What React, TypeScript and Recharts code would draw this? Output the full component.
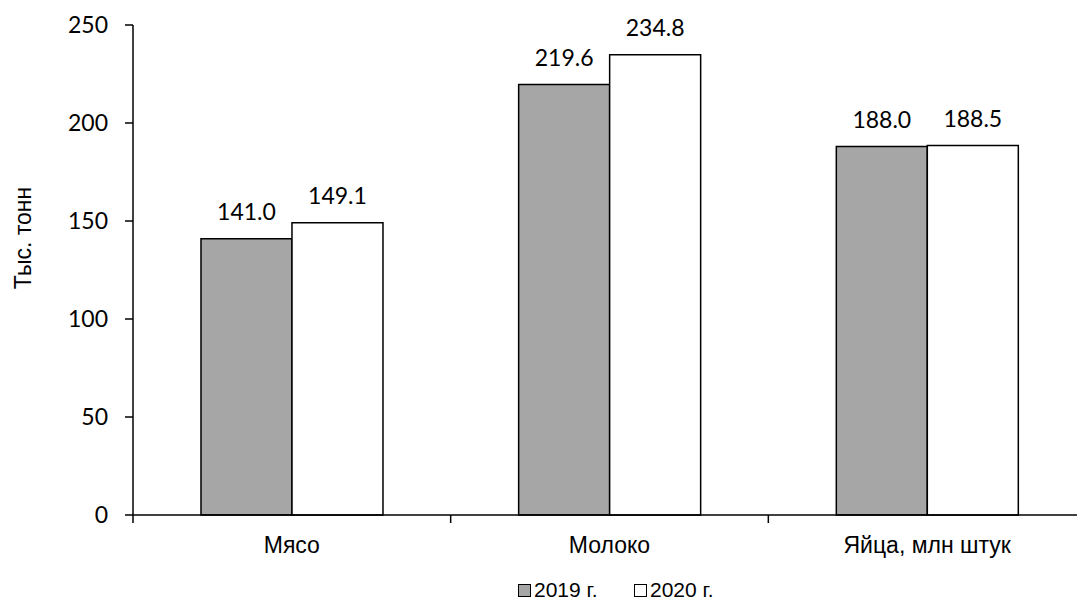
import { BarChart, Bar, XAxis, YAxis, Legend, LabelList } from 'recharts';

const categories = ['Мясо', 'Молоко', 'Яйца, млн штук'];
const values2019 = [141.0, 219.6, 188.0];
const values2020 = [149.1, 234.8, 188.5];
const yTicks = [0, 50, 100, 150, 200, 250];
const seriesNames = ['2019 г.', '2020 г.'];

const data = categories.map((name, i) => ({
  name,
  y2019: values2019[i],
  y2020: values2020[i],
}));

const numFont = 'Lato, "Open Sans", sans-serif';
const textFont = '"Liberation Sans", Arial, sans-serif';

const CategoryTick = (props: any) => {
  const { x, y, payload, index, visibleTicksCount, width } = props;
  const half = payload.offset ?? width / (categories.length * 2);
  const last = index === (visibleTicksCount ?? categories.length) - 1;
  return (
    <g>
      <line x1={x - half} x2={x - half} y1={y} y2={y + 8} stroke="#000" strokeWidth={1.5} />
      {last && <line x1={x + half} x2={x + half} y1={y} y2={y + 8} stroke="#000" strokeWidth={1.5} />}
      <text x={x} y={y + 38} textAnchor="middle" fontFamily={textFont} fontSize={23} fill="#000">
        {payload.value}
      </text>
    </g>
  );
};

const LegendContent = () => (
  <div
    style={{
      height: 20,
      lineHeight: '20px',
      display: 'flex',
      alignItems: 'center',
      paddingLeft: 518,
      fontFamily: textFont,
      fontSize: 21,
      color: '#000',
    }}
  >
    <span style={{ width: 11, height: 11, background: '#a6a6a6', border: '1px solid #000', display: 'inline-block' }} />
    <span style={{ marginLeft: 3, width: 100 }}>{seriesNames[0]}</span>
    <span style={{ width: 11, height: 11, background: '#fff', border: '1px solid #000', display: 'inline-block' }} />
    <span style={{ marginLeft: 3 }}>{seriesNames[1]}</span>
  </div>
);

const YLabel = (props: any) => {
  const vb = props.viewBox;
  const cx = vb.x + 23;
  const cy = vb.y + vb.height / 2 - 32;
  return (
    <text
      x={cx}
      y={cy}
      transform={`rotate(-90 ${cx} ${cy})`}
      textAnchor="middle"
      dominantBaseline="central"
      fontFamily={textFont}
      fontSize={23}
      fill="#000"
    >
      Тыс. тонн
    </text>
  );
};

export default function App() {
  return (
    <div style={{ position: 'absolute', left: 0, top: 0, width: 1077, height: 602, overflow: 'hidden', background: '#fff' }}>
      <BarChart
        width={1095}
        height={602}
        data={data}
        margin={{ top: 25, right: 9, bottom: 0, left: 0 }}
        barCategoryGap="21.4%"
        barGap={0}
      >
        <XAxis
          dataKey="name"
          height={67}
          tickSize={0}
          tickMargin={0}
          tick={<CategoryTick />}
          interval={0}
          axisLine={{ stroke: '#000', strokeWidth: 1.5 }}
        />
        <YAxis
          width={133}
          domain={[0, 250]}
          ticks={yTicks}
          interval={0}
          tickSize={8}
          tickMargin={17}
          axisLine={{ stroke: '#000', strokeWidth: 1.5 }}
          tickLine={{ stroke: '#000', strokeWidth: 1.5 }}
          tick={{ fill: '#000', fontFamily: numFont, fontSize: 23 }}
          label={{ content: <YLabel /> }}
        />
        <Legend
          content={<LegendContent />}
          wrapperStyle={{ left: 0, top: 580, width: 1095, height: 20 }}
        />
        <Bar dataKey="y2019" name={seriesNames[0]} fill="#a6a6a6" stroke="#000" strokeWidth={1.5} isAnimationActive={false}>
          <LabelList
            dataKey="y2019"
            position="top"
            offset={19}
            formatter={(v: any) => Number(v).toFixed(1)}
            style={{ fill: '#000', fontFamily: numFont, fontSize: 23 }}
          />
        </Bar>
        <Bar dataKey="y2020" name={seriesNames[1]} fill="#ffffff" stroke="#000" strokeWidth={1.5} isAnimationActive={false}>
          <LabelList
            dataKey="y2020"
            position="top"
            offset={19}
            formatter={(v: any) => Number(v).toFixed(1)}
            style={{ fill: '#000', fontFamily: numFont, fontSize: 23 }}
          />
        </Bar>
      </BarChart>
    </div>
  );
}
